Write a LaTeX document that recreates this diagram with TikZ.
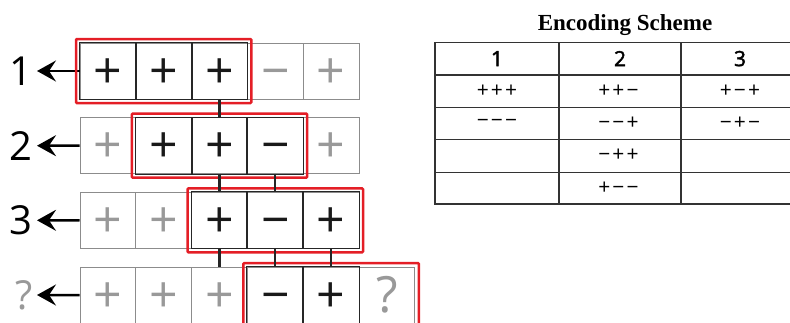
\documentclass[tikz,border=0pt]{standalone}
\usepackage{fontspec}
\setmainfont{Open Sans}
\newfontfamily\titlefont{Liberation Serif}
\newfontfamily\codefont[LetterSpace=10]{Open Sans}
\newfontfamily\hdfont[FakeBold=2]{Open Sans}
\usetikzlibrary{arrows.meta}
\definecolor{boxred}{RGB}{228,30,38}

\begin{document}
\begin{tikzpicture}[
  x=1pt, y=-1pt, >=Stealth,
  cell/.style={draw=black!45, line width=1pt, minimum width=55.8pt, minimum height=56pt,
               inner sep=0pt, text height=34pt, text depth=0pt,
               font=\fontsize{50}{50}\selectfont},
  st1/.style={text=black!90},
  st0/.style={text=black!40},
  rowlbl/.style={anchor=east, inner sep=0pt, font=\fontsize{40}{40}\selectfont},
  pointer/.style={line width=2.5pt, -{Stealth[length=19pt,width=21pt,inset=7pt]}, shorten >=4pt},
  sel/.style={draw=boxred, line width=2.5pt, rounded corners=1pt},
  link/.style={line width=2.2pt, black!85},
  tab/.style={line width=1.6pt, black!80},
  hd/.style={font=\hdfont\fontsize{21}{21}\selectfont},
  code/.style={font=\codefont\fontsize{21}{21}\selectfont},
]
\useasboundingbox (0,0) rectangle (790,322);
\clip (0,0) rectangle (790,322);

% Reading frames: one row of cells per frame
\foreach \r/\row in {1/{+/1,+/1,+/1,−/0,+/0},
                     2/{+/0,+/1,+/1,−/1,+/0},
                     3/{+/0,+/0,+/1,−/1,+/1},
                     4/{+/0,+/0,+/0,−/1,+/1,?/0}} {
  \foreach \s/\a [count=\j] in \row
    \node[cell, st\a] (c\r\j) at ({80+55.8*(\j-0.5)}, {71+74.67*(\r-1)}) {\s};
  % dark borders for the cells in the window
  \foreach \s/\a [count=\j] in \row {
    \ifnum\a=1 \draw[black!85, line width=1pt] (c\r\j.north west) rectangle (c\r\j.south east); \fi
  }
}

% Row labels with arrows
\node[rowlbl] (l1) at (33,71) {1};
\node[rowlbl] (l2) at (33,145.7) {2};
\node[rowlbl] (l3) at (33,220.3) {3};
\node[rowlbl, text=black!40] (l4) at (33,295) {?};
\foreach \r in {1,...,4}
  \draw[pointer] (c\r1.west) -- (l\r.east);

% Red windows
\draw[sel] ([xshift=-3.5pt,yshift=3.5pt]c11.north west) rectangle ([xshift=3.5pt,yshift=-3.5pt]c13.south east);
\draw[sel] ([xshift=-3.5pt,yshift=3.5pt]c22.north west) rectangle ([xshift=3.5pt,yshift=-3.5pt]c24.south east);
\draw[sel] ([xshift=-3.5pt,yshift=3.5pt]c33.north west) rectangle ([xshift=3.5pt,yshift=-3.5pt]c35.south east);
\draw[sel] ([xshift=-3.5pt,yshift=3.5pt]c44.north west) rectangle ([xshift=3.5pt,yshift=-3.5pt]c46.south east);

% Links between frames
\draw[link] (c13.south) -- (c23.north);
\draw[link] (c23.south) -- (c33.north);
\draw[link] (c24.south) -- (c34.north);
\draw[link] (c33.south) -- (c43.north);
\draw[link] (c34.south) -- (c44.north);
\draw[link] (c35.south) -- (c45.north);

% Encoding scheme table
\node[font=\titlefont\bfseries\fontsize{23}{23}\selectfont] (title) at (625,25) {Encoding Scheme};
\draw[tab] (435,42.3) rectangle (800,204);
\foreach \y in {75,107.3,139.3,172.3}
  \draw[tab] (435,\y) -- (800,\y);
\foreach \x in {559,680.7}
  \draw[tab] (\x,42.3) -- (\x,204);
\node[hd] (h1) at (497,58.6) {1};
\node[hd] (h2) at (620,58.6) {2};
\node[hd] (h3) at (740,58.6) {3};
\foreach \t/\i/\j in {+++/1/1, −−−/2/1,
                      ++−/1/2, −−+/2/2, −++/3/2, +−−/4/2,
                      +−+/1/3, −+−/2/3}
  \node[code] (e\i\j) at ({497+121.5*(\j-1)}, {91+32.3*(\i-1)}) {\t};
\end{tikzpicture}
\end{document}
